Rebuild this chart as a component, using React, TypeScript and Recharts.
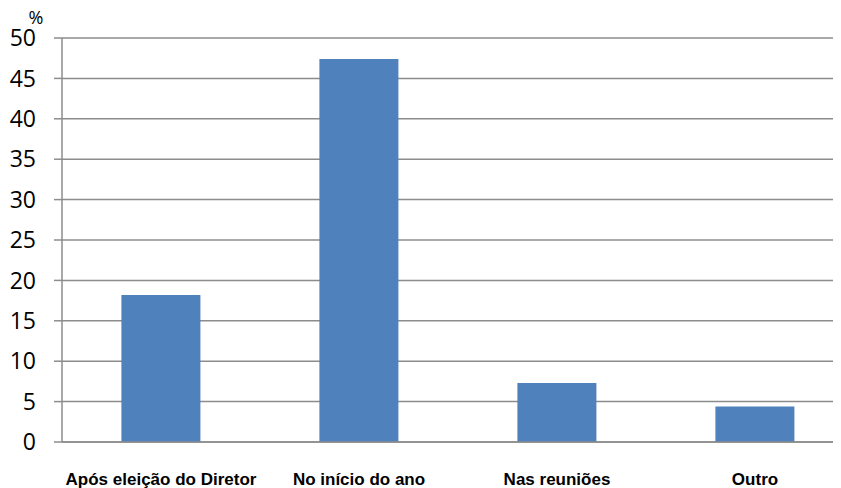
import React from "react";
import { BarChart, Bar, XAxis, YAxis, CartesianGrid } from "recharts";

// Quando os participantes ficam a conhecer o plano (%)
const categories = [
  "Após eleição do Diretor",
  "No início do ano",
  "Nas reuniões",
  "Outro",
];
const percentages = [18.2, 47.4, 7.3, 4.4];
const yTicks = [0, 5, 10, 15, 20, 25, 30, 35, 40, 45, 50];

const data = categories.map((name, i) => ({ name, value: percentages[i] }));

const GRID = "#8c8c8c";

export default function App() {
  return (
    <div style={{ width: 846, height: 480 }}>
      <style>{"html { overflow: hidden; }"}</style>
      <BarChart
        width={846}
        height={480}
        data={data}
        margin={{ top: 30, right: 0, bottom: 0, left: 0 }}
        barCategoryGap="30%"
      >
        <CartesianGrid vertical={false} stroke={GRID} strokeWidth={1.5} />
        <XAxis
          dataKey="name"
          height={46}
          axisLine={{ stroke: GRID, strokeWidth: 1.5 }}
          tickLine={false}
          tickMargin={25}
          interval={0}
          tick={{
            fill: "#000",
            fontSize: 17,
            fontWeight: "bold",
            fontFamily: "Liberation Sans, Arial, sans-serif",
          }}
        />
        <YAxis
          domain={[0, 50]}
          ticks={yTicks}
          width={54}
          interval={0}
          axisLine={{ stroke: GRID, strokeWidth: 1.5 }}
          tickLine={{ stroke: GRID, strokeWidth: 1.5 }}
          tickSize={8}
          tickMargin={18}
          tick={{ fill: "#000", fontSize: 23, fontFamily: "Open Sans, sans-serif" }}
          label={{
            content: () => (
              <text
                x={28}
                y={16}
                textAnchor="middle"
                fontSize={18}
                fontFamily="Open Sans, sans-serif"
                fill="#000"
              >
                %
              </text>
            ),
          }}
        />
        <Bar dataKey="value" fill="#4f81bd" isAnimationActive={false} />
      </BarChart>
    </div>
  );
}
